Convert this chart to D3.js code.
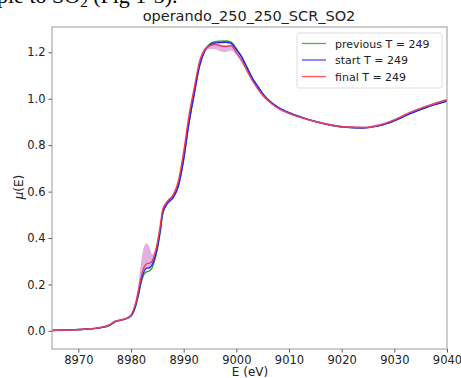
<!DOCTYPE html>
<html>
<head>
<meta charset="utf-8">
<script src="https://cdn.jsdelivr.net/npm/d3@7"></script>
<style>
  body { margin: 0; background: #fff; }
  svg text { font-family: "DejaVu Sans", sans-serif; fill: #222; }
</style>
</head>
<body>
<svg id="chart" width="461" height="378"></svg>
<script>
// energy grid (eV)
const energy = [8965, 8968, 8971, 8974, 8976, 8977, 8978, 8979, 8980, 8980.5, 8981, 8981.5,
  8982, 8982.5, 8983, 8983.5, 8984, 8984.5, 8985, 8985.5, 8986, 8986.5, 8987, 8988, 8989,
  8990, 8991, 8992, 8993, 8994, 8995, 8996, 8997, 8998, 8999, 9000, 9001, 9002, 9003, 9004,
  9005, 9006, 9008, 9010, 9012, 9015, 9018, 9021, 9024, 9027, 9030, 9033, 9036, 9040];

const startMu = [0.002, 0.004, 0.007, 0.013, 0.025, 0.040, 0.046, 0.052, 0.065, 0.085, 0.120, 0.170,
  0.225, 0.258, 0.270, 0.272, 0.285, 0.315, 0.360, 0.425, 0.505, 0.535, 0.552, 0.575, 0.625,
  0.740, 0.895, 1.020, 1.140, 1.205, 1.232, 1.240, 1.242, 1.243, 1.238, 1.212, 1.180, 1.135, 1.090, 1.055,
  1.022, 0.997, 0.962, 0.940, 0.923, 0.902, 0.886, 0.877, 0.874, 0.883, 0.905, 0.936, 0.962, 0.990];

const previousMu = [0.002, 0.004, 0.007, 0.013, 0.025, 0.040, 0.046, 0.052, 0.064, 0.083, 0.116, 0.163,
  0.215, 0.245, 0.255, 0.258, 0.272, 0.305, 0.352, 0.420, 0.502, 0.534, 0.552, 0.575, 0.625,
  0.740, 0.895, 1.020, 1.142, 1.208, 1.237, 1.246, 1.248, 1.249, 1.244, 1.216, 1.182, 1.137, 1.091, 1.056,
  1.022, 0.997, 0.962, 0.940, 0.923, 0.902, 0.886, 0.877, 0.874, 0.883, 0.905, 0.936, 0.962, 0.990];

const finalMu = [0.002, 0.004, 0.007, 0.014, 0.027, 0.042, 0.047, 0.053, 0.068, 0.092, 0.130, 0.185,
  0.240, 0.275, 0.290, 0.292, 0.300, 0.330, 0.378, 0.445, 0.520, 0.545, 0.560, 0.585, 0.645,
  0.770, 0.925, 1.045, 1.158, 1.212, 1.228, 1.233, 1.228, 1.225, 1.228, 1.200, 1.165, 1.122, 1.080, 1.046,
  1.015, 0.992, 0.958, 0.937, 0.921, 0.902, 0.887, 0.878, 0.876, 0.886, 0.909, 0.941, 0.967, 0.996];

// spread of final scans around the final mean
const spreadUp = [0.003, 0.003, 0.003, 0.003, 0.004, 0.004, 0.004, 0.004, 0.005, 0.006, 0.010, 0.030,
  0.070, 0.090, 0.088, 0.070, 0.030, 0.012, 0.008, 0.006, 0.006, 0.006, 0.006, 0.006, 0.006,
  0.006, 0.006, 0.006, 0.006, 0.005, 0.005, 0.005, 0.005, 0.005, 0.005, 0.005, 0.005, 0.005, 0.005, 0.005,
  0.004, 0.004, 0.004, 0.004, 0.004, 0.004, 0.004, 0.004, 0.004, 0.004, 0.004, 0.004, 0.004, 0.004];

const spreadDown = [0.003, 0.003, 0.003, 0.003, 0.004, 0.004, 0.004, 0.004, 0.005, 0.006, 0.008, 0.010,
  0.012, 0.015, 0.018, 0.018, 0.012, 0.010, 0.008, 0.006, 0.006, 0.006, 0.006, 0.006, 0.006,
  0.006, 0.006, 0.006, 0.008, 0.010, 0.014, 0.020, 0.024, 0.024, 0.020, 0.012, 0.008, 0.006, 0.005, 0.005,
  0.004, 0.004, 0.004, 0.004, 0.004, 0.004, 0.004, 0.004, 0.004, 0.004, 0.004, 0.004, 0.004, 0.004];

const xTicks = [8970, 8980, 8990, 9000, 9010, 9020, 9030, 9040];
const yTicks = [0.0, 0.2, 0.4, 0.6, 0.8, 1.0, 1.2];

const series = [
  { label: 'previous T = 249', values: previousMu, color: '#22a022' },
  { label: 'start T = 249', values: startMu, color: '#2020ff' },
  { label: 'final T = 249', values: finalMu, color: '#ff3030' }
];

const margin = { left: 52, right: 14, top: 27, bottom: 29 };
const W = 461, H = 378;

const svg = d3.select('#chart');

const x = d3.scaleLinear().domain([8965, 9040]).range([margin.left, W - margin.right]);
const y = d3.scaleLinear().domain([-0.078, 1.309]).range([H - margin.bottom, margin.top]);

// bit of the document text above the figure
svg.append('text')
  .attr('x', -3).attr('y', 3)
  .style('font-family', '"Liberation Serif", serif')
  .style('font-size', '22px')
  .style('fill', '#000')
  .html('ple to SO<tspan font-size="15" dy="4">2</tspan><tspan dy="-4"> (Fig 1-3).</tspan>');

svg.append('clipPath').attr('id', 'plotclip')
  .append('rect')
  .attr('x', margin.left).attr('y', margin.top)
  .attr('width', W - margin.left - margin.right)
  .attr('height', H - margin.top - margin.bottom);

const plot = svg.append('g').attr('clip-path', 'url(#plotclip)');

const band = d3.area()
  .x((d, i) => x(energy[i]))
  .y0((d, i) => y(finalMu[i] - spreadDown[i]))
  .y1((d, i) => y(finalMu[i] + spreadUp[i]))
  .curve(d3.curveMonotoneX);

const line = d3.line()
  .x((d, i) => x(energy[i]))
  .y(d => y(d))
  .curve(d3.curveMonotoneX);

series.forEach(s => {
  plot.append('path')
    .attr('d', line(s.values))
    .attr('fill', 'none')
    .attr('stroke', s.color)
    .attr('stroke-width', 1.4);
});

plot.append('path')
  .attr('d', band(finalMu))
  .attr('fill', '#c050c0')
  .attr('fill-opacity', 0.45);

// axes
const xAxis = d3.axisBottom(x).tickValues(xTicks).tickFormat(d3.format('d')).tickSize(3.5).tickPadding(3);
const yAxis = d3.axisLeft(y).tickValues(yTicks).tickFormat(d3.format('.1f')).tickSize(3.5).tickPadding(3);

const gx = svg.append('g').attr('transform', `translate(0,${H - margin.bottom})`).call(xAxis);
const gy = svg.append('g').attr('transform', `translate(${margin.left},0)`).call(yAxis);
[gx, gy].forEach(g => {
  g.attr('font-size', null).attr('font-family', null);
  g.select('.domain').remove();
  g.selectAll('line').attr('stroke', '#555');
  g.selectAll('text').style('font-size', '11.5px').style('fill', '#222');
});

svg.append('rect')
  .attr('x', margin.left).attr('y', margin.top)
  .attr('width', W - margin.left - margin.right)
  .attr('height', H - margin.top - margin.bottom)
  .attr('fill', 'none').attr('stroke', '#999').attr('stroke-width', 1);

// titles
svg.append('text')
  .attr('x', 249).attr('y', 21)
  .attr('text-anchor', 'middle')
  .style('font-size', '14.5px')
  .text('operando_250_250_SCR_SO2');

svg.append('text')
  .attr('x', 250).attr('y', 376)
  .attr('text-anchor', 'middle')
  .style('font-size', '12px')
  .text('E (eV)');

svg.append('text')
  .attr('transform', 'translate(23,187) rotate(-90)')
  .attr('text-anchor', 'middle')
  .style('font-size', '12px')
  .html('<tspan font-style="italic">μ</tspan>(E)');

// legend
const legend = svg.append('g');
legend.append('rect')
  .attr('x', 297).attr('y', 33).attr('width', 145).attr('height', 55).attr('rx', 2)
  .attr('fill', '#fff').attr('fill-opacity', 0.8)
  .attr('stroke', '#ddd');

series.forEach((s, i) => {
  const ly = 43.5 + i * 16.5;
  legend.append('line')
    .attr('x1', 302).attr('x2', 326).attr('y1', ly).attr('y2', ly)
    .attr('stroke', s.color).attr('stroke-width', 1.3).attr('stroke-opacity', 0.8);
  legend.append('text')
    .attr('x', 335).attr('y', ly + 4)
    .style('font-size', '11px')
    .text(s.label);
});
</script>
</body>
</html>
